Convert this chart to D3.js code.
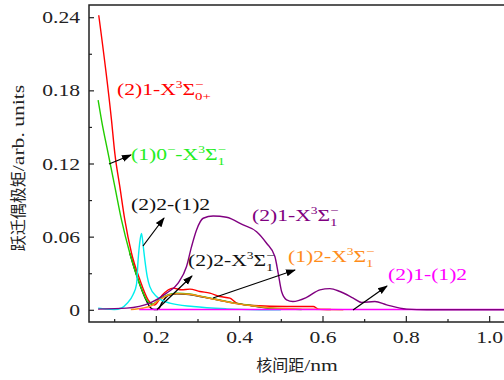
<!DOCTYPE html>
<html>
<head>
<meta charset="utf-8">
<script src="https://cdn.jsdelivr.net/npm/d3@7"></script>
<style>
    body { margin: 0; background: #ffffff; }
</style>
</head>
<body>
<div id="chart"></div>
<script>
"use strict";

// data: [internuclear distance (nm), transition dipole (arb. units)]
const red_2_1_X0 = [[0.063,0.2416],[0.0936,0.1556],[0.1016,0.1283],[0.1136,0.101],[0.1256,0.0737],[0.1417,0.0464],[0.1617,0.0246],[0.1815,0.0082],[0.197,0.004],[0.215,0.012],[0.2415,0.0178],[0.2617,0.0164],[0.2816,0.017],[0.3057,0.015],[0.3297,0.0137],[0.3537,0.0109],[0.3777,0.0096],[0.394,0.0055],[0.434,0.0035],[0.514,0.0027],[0.578,0.0027],[0.59,0.0006],[0.62,0.0002]];
const green_1_0_X1 = [[0.0615,0.172],[0.0696,0.1556],[0.0855,0.1283],[0.1016,0.101],[0.1176,0.0737],[0.1376,0.0464],[0.1575,0.0246],[0.1777,0.0082],[0.19,0.0045],[0.21,0.009],[0.23,0.0125],[0.25,0.0137],[0.28,0.013],[0.31,0.011],[0.35,0.0082],[0.39,0.0055],[0.43,0.0035],[0.47,0.0015],[0.52,0.0007],[0.55,0.0003]];
const black_2_2_X1 = [[0.1376,0.0464],[0.1575,0.0246],[0.1777,0.0072],[0.188,0.0015],[0.196,0.0003],[0.205,0.0003],[0.215,0.006],[0.23,0.0118],[0.25,0.0132],[0.28,0.0126],[0.31,0.0107],[0.35,0.008],[0.39,0.0053],[0.43,0.0033],[0.47,0.0014],[0.52,0.0006]];
const orange_1_2_X1 = [[0.14,0.0003],[0.17,0.0015],[0.19,0.0035],[0.21,0.0085],[0.23,0.012],[0.25,0.0133],[0.28,0.0128],[0.31,0.0108],[0.35,0.008],[0.39,0.0053],[0.43,0.0033],[0.47,0.0018],[0.52,0.001],[0.58,0.0004],[0.65,0.0001]];
const cyan_2_2_1_2 = [[0.0615,0.0014],[0.08,0.0007],[0.10,0.0003],[0.118,0.0015],[0.13,0.005],[0.1455,0.0125],[0.1537,0.021],[0.1575,0.041],[0.1625,0.058],[0.1657,0.0627],[0.1695,0.053],[0.1736,0.041],[0.1795,0.027],[0.1856,0.019],[0.2017,0.011],[0.2336,0.0055],[0.2896,0.0027],[0.3697,0.0008],[0.45,0.0001],[0.5,0]];
const purple_2_1_X1 = [[0.0615,0.0006],[0.1297,0.0014],[0.1856,0.0055],[0.2257,0.0137],[0.2535,0.0219],[0.2737,0.0355],[0.2857,0.0518],[0.2977,0.0655],[0.3136,0.0751],[0.3376,0.077],[0.3697,0.0759],[0.4096,0.0696],[0.4418,0.0641],[0.4658,0.0546],[0.4857,0.0437],[0.4936,0.0301],[0.5018,0.015],[0.5138,0.0082],[0.5289,0.0068],[0.5618,0.0102],[0.5938,0.0164],[0.6178,0.0174],[0.6418,0.015],[0.6737,0.0096],[0.6939,0.006],[0.7258,0.0068],[0.7539,0.0041],[0.8019,0.0006],[0.85,0.0001],[1.05,0.0001]];
const magenta_2_1_1_2 = [[0.16,0.0002],[0.3,0.0002],[0.5,0.0002],[0.7,0.0002],[0.9,0.0002],[1.05,0.0002]];

const xMajorTicks = [0.2, 0.4, 0.6, 0.8, 1.0];
const xMinorTicks = [0.1, 0.3, 0.5, 0.7, 0.9];
const yMajorTicks = [0, 0.06, 0.12, 0.18, 0.24];
const yMinorTicks = [0.03, 0.09, 0.15, 0.21];

const SERIF = "'Liberation Serif', 'DejaVu Serif', serif";
const CJK = "'Noto Sans CJK SC', sans-serif";
const SX = 1.35;      // latin glyphs in the reference are wide
const FS = 16;

const margin = {top: 5, right: 0, bottom: 58, left: 89},
    width = 510 - margin.left,
    height = 380 - margin.top - margin.bottom;

const root = d3.select("#chart")
    .append("svg")
    .attr("width", 504)
    .attr("height", 380);

root.append("defs").append("marker")
    .attr("id", "arrow")
    .attr("viewBox", "0 0 10 10")
    .attr("refX", 9)
    .attr("refY", 5)
    .attr("markerWidth", 10)
    .attr("markerHeight", 10)
    .attr("markerUnits", "userSpaceOnUse")
    .attr("orient", "auto")
    .append("path")
    .attr("d", "M0,1.5 L10,5 L0,8.5 Z")
    .attr("fill", "#000");

const svg = root.append("g")
    .attr("transform", "translate(" + margin.left + "," + margin.top + ")");

const x = d3.scaleLinear()
    .domain([0.0396, 1.05])
    .range([0, width]);

const y = d3.scaleLinear()
    .domain([-0.01, 0.25])
    .range([height, 0]);

// draws a run of text pieces (normal / sup / sub, stacked sup+sub) and returns its width
function richText(parent, px, py, pieces, color) {
    const g = parent.append("g").attr("transform", "translate(" + px + "," + py + ")");
    let cx = 0, lastStart = 0;
    pieces.forEach(function(p) {
        const sx = p.cjk ? 1 : SX;
        const start = p.stack ? lastStart : cx;
        const t = g.append("text")
            .attr("transform", "translate(" + start + "," + (p.dy || 0) + ") scale(" + sx + ",1)")
            .attr("font-family", p.cjk ? CJK : SERIF)
            .attr("font-size", p.size || FS)
            .attr("fill", color)
            .text(p.t);
        const w = t.node().getComputedTextLength() * sx;
        cx = p.stack ? Math.max(cx, start + w) : start + w;
        lastStart = start;
    });
    return {g: g, w: cx};
}

function sigmaTerm(prefix) {
    return prefix.concat([
        {t: "-X"},
        {t: "3", size: 10, dy: -7},
        {t: "\u03A3"},
        {t: "\u2212", size: 11, dy: -7},
        {t: "1", size: 11, dy: 5, stack: true}
    ]);
}

// axes: frame, ticks pointing inward
const xAxis = svg.append("g")
    .attr("transform", "translate(0," + height + ")")
    .call(d3.axisBottom(x).tickValues(xMajorTicks).tickSize(-6).tickPadding(0).tickFormat(d3.format(".1f")));
xAxis.select(".domain").remove();
xAxis.selectAll("text")
    .attr("y", 21)
    .attr("dy", 0)
    .attr("font-family", SERIF)
    .attr("font-size", FS)
    .attr("transform", "scale(" + SX + ",1)")
    .attr("fill", "#222");
svg.append("g")
    .attr("transform", "translate(0," + height + ")")
    .call(d3.axisBottom(x).tickValues(xMinorTicks).tickSize(-3).tickFormat(""))
    .select(".domain").remove();

const yAxis = svg.append("g")
    .call(d3.axisLeft(y).tickValues(yMajorTicks).tickSize(-5).tickPadding(0).tickFormat(function(d) { return d === 0 ? "0" : d3.format(".2f")(d); }));
yAxis.select(".domain").remove();
yAxis.selectAll("text")
    .attr("x", -9 / SX)
    .attr("dy", "0.35em")
    .attr("font-family", SERIF)
    .attr("font-size", FS)
    .attr("transform", "scale(" + SX + ",1)")
    .attr("fill", "#222");
svg.append("g")
    .call(d3.axisLeft(y).tickValues(yMinorTicks).tickSize(-3).tickFormat(""))
    .select(".domain").remove();

svg.selectAll(".tick line").attr("stroke", "#222").attr("stroke-width", 1.2);

svg.append("path")
    .attr("d", "M" + width + ",0 H0 V" + height + " H" + width)
    .attr("fill", "none")
    .attr("stroke", "#222")
    .attr("stroke-width", 1.5);

// curves
const line = d3.line()
    .curve(d3.curveMonotoneX)
    .x(function(d) { return x(d[0]); })
    .y(function(d) { return y(d[1]); });

const series = [
    {data: black_2_2_X1, color: "#000000"},
    {data: red_2_1_X0, color: "#ff0000"},
    {data: green_1_0_X1, color: "#22cc00"},
    {data: orange_1_2_X1, color: "#ff8c1a"},
    {data: cyan_2_2_1_2, color: "#00eeee"},
    {data: magenta_2_1_1_2, color: "#ff00ff"},
    {data: purple_2_1_X1, color: "#800080"}
];

series.forEach(function(s) {
    svg.append("path")
        .datum(s.data)
        .attr("fill", "none")
        .attr("stroke", s.color)
        .attr("stroke-width", 1.4)
        .attr("stroke-linejoin", "round")
        .attr("d", line);
});

// annotation labels (page coordinates)
const ann = root.append("g");

richText(ann, 117, 95, [
    {t: "(2)1-X"}, {t: "3", size: 10, dy: -7}, {t: "\u03A3"},
    {t: "\u2212", size: 11, dy: -7}, {t: "0+", size: 11, dy: 5, stack: true}
], "#ff0000");

richText(ann, 131, 160, sigmaTerm([{t: "(1)0"}, {t: "\u2212", size: 11, dy: -7}]), "#22ee22");

richText(ann, 131, 210, [{t: "(2)2-(1)2"}], "#111");

richText(ann, 252, 221, sigmaTerm([{t: "(2)1"}]), "#800080");

richText(ann, 188, 266, sigmaTerm([{t: "(2)2"}]), "#111");

richText(ann, 288, 262, sigmaTerm([{t: "(1)2"}]), "#ff8c1a");

richText(ann, 388, 280, [{t: "(2)1-(1)2"}], "#ff00ff");

// arrows
const arrows = [
    [109, 164, 131, 155],
    [143, 246, 164, 218],
    [157, 309.5, 192, 276],
    [213, 298, 295, 270],
    [353, 310, 387, 286]
];
arrows.forEach(function(a) {
    ann.append("line")
        .attr("x1", a[0]).attr("y1", a[1])
        .attr("x2", a[2]).attr("y2", a[3])
        .attr("stroke", "#000")
        .attr("stroke-width", 1.2)
        .attr("marker-end", "url(#arrow)");
});

// axis titles
const xt = richText(root, 0, 371, [{t: "核间距", cjk: true, size: 16}, {t: "/nm"}], "#222");
xt.g.attr("transform", "translate(" + (297 - xt.w / 2) + ",371)");

const yt = richText(root, 0, 0, [{t: "跃迁偶极矩", cjk: true, size: 16}, {t: "/arb. units"}], "#222");
yt.g.attr("transform", "translate(24," + (168 + yt.w / 2) + ") rotate(-90)");
</script>
</body>
</html>
